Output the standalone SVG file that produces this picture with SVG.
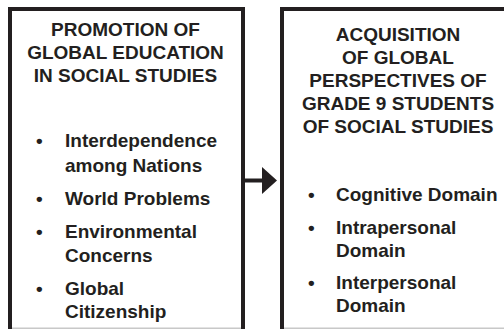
<svg xmlns="http://www.w3.org/2000/svg" width="504" height="329" viewBox="0 0 504 329">
<style>
.box{fill:none;stroke:#231f20;stroke-width:4;stroke-linejoin:miter}
.t{font-family:"Liberation Sans",Arial,sans-serif;font-weight:bold;font-size:19px;fill:#231f20}
.c{text-anchor:middle}
.edge{stroke:#231f20;stroke-width:4;fill:none}
.base{stroke:#c8c8c8;stroke-width:1.5}
</style>
<rect width="504" height="329" fill="#fff"/>
<g id="node-promotion">
<path class="box" d="M10,330 V9 H243 V330"/>
<line class="base" x1="12" y1="328.2" x2="241" y2="328.2"/>
<text class="t c" x="125.5" y="36">PROMOTION OF</text>
<text class="t c" x="125.5" y="59">GLOBAL EDUCATION</text>
<text class="t c" x="125.5" y="82">IN SOCIAL STUDIES</text>
<text class="t" x="36" y="147">•</text>
<text class="t" x="65" y="147">Interdependence</text>
<text class="t" x="65" y="172">among Nations</text>
<text class="t" x="36" y="205">•</text>
<text class="t" x="65" y="205">World Problems</text>
<text class="t" x="36" y="238">•</text>
<text class="t" x="65" y="238">Environmental</text>
<text class="t" x="65" y="262">Concerns</text>
<text class="t" x="36" y="295">•</text>
<text class="t" x="65" y="295">Global</text>
<text class="t" x="65" y="318">Citizenship</text>
</g>
<g id="node-acquisition">
<path class="box" d="M282,330 V9 H510"/>
<line class="base" x1="284" y1="328.2" x2="504" y2="328.2"/>
<text class="t c" x="398" y="41">ACQUISITION</text>
<text class="t c" x="398" y="64">OF GLOBAL</text>
<text class="t c" x="398" y="87">PERSPECTIVES OF</text>
<text class="t c" x="398" y="110">GRADE 9 STUDENTS</text>
<text class="t c" x="398" y="133">OF SOCIAL STUDIES</text>
<text class="t" x="308" y="201">•</text>
<text class="t" x="336" y="201">Cognitive Domain</text>
<text class="t" x="308" y="234">•</text>
<text class="t" x="336" y="234">Intrapersonal</text>
<text class="t" x="336" y="257">Domain</text>
<text class="t" x="308" y="289">•</text>
<text class="t" x="336" y="289">Interpersonal</text>
<text class="t" x="336" y="312">Domain</text>
</g>
<g id="connectors">
<line class="edge" x1="245" y1="180.5" x2="264" y2="180.5"/>
<polygon points="262,167 277,180.5 262,194" fill="#231f20"/>
</g>
</svg>
